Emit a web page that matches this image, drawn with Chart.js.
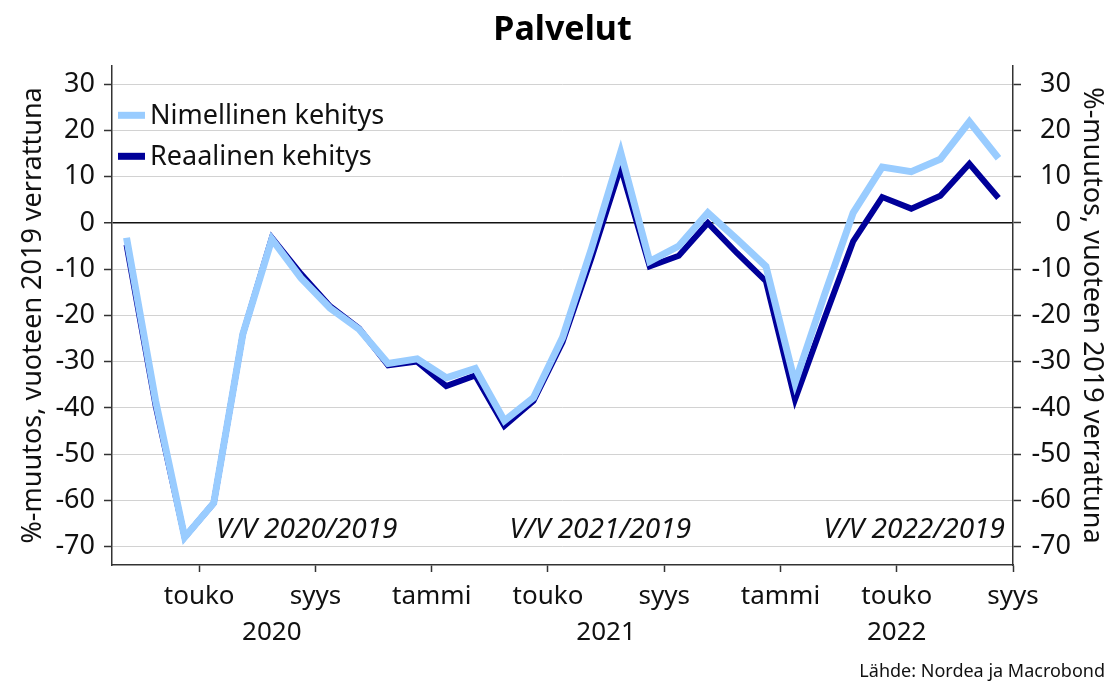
<!DOCTYPE html>
<html>
<head>
<meta charset="utf-8">
<script src="https://cdn.jsdelivr.net/npm/chart.js@4/dist/chart.umd.min.js"></script>
<style>
  html, body { margin: 0; padding: 0; background: #fff; }
</style>
</head>
<body>
<canvas id="chart" width="1110" height="681"></canvas>
<script>
// monthly observations, Feb 2020 .. Aug 2022 (% change vs same month of 2019)
const months = [
    '2020-02', '2020-03', '2020-04', '2020-05', '2020-06', '2020-07', '2020-08', '2020-09', '2020-10', '2020-11', '2020-12',
    '2021-01', '2021-02', '2021-03', '2021-04', '2021-05', '2021-06', '2021-07', '2021-08', '2021-09', '2021-10', '2021-11', '2021-12',
    '2022-01', '2022-02', '2022-03', '2022-04', '2022-05', '2022-06', '2022-07', '2022-08'
];
const nominal = [
    -3.2, -38.5, -68.0, -60.6, -24.1, -3.5, -11.9, -18.4, -23.0, -30.4, -29.4,
    -33.5, -31.5, -42.8, -37.8, -24.8, -5.5, 15.3, -8.3, -5.0, 2.2, -3.5, -9.4,
    -34.6, -15.8, 2.2, 12.1, 11.1, 13.8, 21.9, 14.0
];
const real = [
    -4.7, -39.5, -68.0, -60.6, -24.1, -3.2, -11.0, -18.0, -22.8, -30.8, -30.0,
    -35.3, -33.0, -43.9, -38.5, -25.8, -7.5, 12.1, -9.4, -7.1, 0.0, -6.5, -12.6,
    -38.2, -20.9, -4.0, 5.6, 3.1, 5.9, 12.8, 5.4
];
const seriesNames = ['Nimellinen kehitys', 'Reaalinen kehitys'];
const tickMonths = ['2020-05', '2020-09', '2021-01', '2021-05', '2021-09', '2022-01', '2022-05', '2022-09'];
const tickNames = ['touko', 'syys', 'tammi', 'touko', 'syys', 'tammi', 'touko', 'syys'];
const years = ['2020', '2021', '2022'];
const yTicks = [30, 20, 10, 0, -10, -20, -30, -40, -50, -60, -70];
const notes = ['V/V 2020/2019', 'V/V 2021/2019', 'V/V 2022/2019'];
const axisTitle = '%-muutos, vuoteen 2019 verrattuna';
const source = 'Lähde: Nordea ja Macrobond';

const FONT = "'Noto Sans', sans-serif";
Chart.defaults.font.family = FONT;
Chart.defaults.color = '#111';

// month index relative to the first observation
function monthPos(key) {
    const [y0, m0] = months[0].split('-').map(Number);
    const [y, m] = key.split('-').map(Number);
    return (y - y0) * 12 + (m - m0);
}

const xMin = -0.5;
const xMax = monthPos(tickMonths[tickMonths.length - 1]) - 0.5;
const tickPos = tickMonths.map(k => monthPos(k) - 0.5);
const yearPos = years.map(y => {
    const a = Math.max(xMin, monthPos(y + '-01') - 0.5);
    const b = Math.min(xMax, monthPos((+y + 1) + '-01') - 0.5);
    return (a + b) / 2;
});
const notePos = [6.2, 16.3, 27.1];
const yMin = -74, yMax = 34;

const overlay = {
    id: 'overlay',
    afterDraw(chart) {
        const { ctx, chartArea: a, scales: { x, y } } = chart;
        ctx.save();

        // legend inside the plot
        chart.data.datasets.forEach((ds, i) => {
            const cy = a.top + 49.5 + i * 41;
            ctx.strokeStyle = ds.borderColor;
            ctx.lineWidth = 7;
            ctx.beginPath();
            ctx.moveTo(a.left + 6, cy);
            ctx.lineTo(a.left + 33, cy);
            ctx.stroke();
            ctx.fillStyle = '#111';
            ctx.font = '27px ' + FONT;
            ctx.textAlign = 'left';
            ctx.textBaseline = 'middle';
            ctx.fillText(ds.label, a.left + 38, cy + 1);
        });

        // period notes
        ctx.font = 'italic 28px ' + FONT;
        ctx.textAlign = 'center';
        ctx.textBaseline = 'alphabetic';
        notes.forEach((t, i) => {
            ctx.fillText(t, x.getPixelForValue(notePos[i]), y.getPixelForValue(-68.2));
        });

        // source
        ctx.font = '18px ' + FONT;
        ctx.textAlign = 'right';
        ctx.fillText(source, chart.width - 5, chart.height - 4);
        ctx.restore();
    }
};

const gridColor = c => c.tick.value === 0 ? '#111' : '#d2d2d2';
const gridWidth = c => c.tick.value === 0 ? 1.5 : 1;

new Chart(document.getElementById('chart').getContext('2d'), {
    type: 'line',
    data: {
        datasets: [
            {
                label: seriesNames[0],
                data: nominal.map((v, i) => ({ x: i, y: v })),
                borderColor: '#99ccff',
                borderWidth: 7
            },
            {
                label: seriesNames[1],
                data: real.map((v, i) => ({ x: i, y: v })),
                borderColor: '#000099',
                borderWidth: 6
            }
        ]
    },
    options: {
        responsive: false,
        animation: false,
        layout: { padding: { left: 0, right: 0, top: 0, bottom: 33 } },
        elements: {
            point: { radius: 0 },
            line: { tension: 0, borderJoinStyle: 'miter', borderCapStyle: 'butt' }
        },
        plugins: {
            legend: { display: false },
            tooltip: { enabled: false },
            title: {
                display: true,
                text: 'Palvelut',
                fullSize: false,
                color: '#000',
                font: { size: 34, weight: 'bold' },
                padding: { top: 10, bottom: 15 }
            }
        },
        scales: {
            x: {
                type: 'linear',
                position: 'bottom',
                min: xMin,
                max: xMax,
                afterBuildTicks: s => { s.ticks = tickPos.map(v => ({ value: v })); },
                afterFit: s => { s.height = 45; },
                ticks: {
                    autoSkip: false,
                    maxRotation: 0,
                    padding: 9,
                    font: { size: 26 },
                    callback: (v, i) => tickNames[i]
                },
                grid: { drawOnChartArea: false, tickLength: 7, tickColor: '#333', tickWidth: 1.5 },
                border: { color: '#333', width: 1.5 }
            },
            years: {
                type: 'linear',
                position: 'bottom',
                weight: 1,
                min: xMin,
                max: xMax,
                afterBuildTicks: s => { s.ticks = yearPos.map(v => ({ value: v })); },
                afterFit: s => { s.height = 38; },
                ticks: {
                    autoSkip: false,
                    maxRotation: 0,
                    padding: 7,
                    font: { size: 26 },
                    callback: (v, i) => years[i]
                },
                grid: { display: false, drawTicks: false },
                border: { display: false }
            },
            y: {
                position: 'left',
                min: yMin,
                max: yMax,
                afterBuildTicks: s => { s.ticks = yTicks.map(v => ({ value: v })); },
                afterFit: s => { s.width = 112; },
                ticks: { padding: 9, font: { size: 27 } },
                grid: { color: gridColor, lineWidth: gridWidth, tickLength: 8, tickColor: '#333', tickWidth: 1.5 },
                border: { color: '#333', width: 1.5 },
                title: { display: true, text: axisTitle, font: { size: 27 }, padding: { top: 17, bottom: 0 } }
            },
            y2: {
                position: 'right',
                min: yMin,
                max: yMax,
                afterBuildTicks: s => { s.ticks = yTicks.map(v => ({ value: v })); },
                afterFit: s => { s.width = 58; },
                ticks: { padding: 9, crossAlign: 'far', font: { size: 27 } },
                grid: { drawOnChartArea: false, tickLength: 8, tickColor: '#333', tickWidth: 1.5 },
                border: { color: '#333', width: 1.5 }
            },
            y3: {
                position: 'right',
                weight: 1,
                min: yMin,
                max: yMax,
                afterFit: s => { s.width = 39; },
                ticks: { display: false },
                grid: { display: false, drawTicks: false },
                border: { display: false },
                title: { display: true, text: axisTitle, font: { size: 27 }, padding: { top: 2, bottom: 0 } }
            }
        }
    },
    plugins: [overlay]
});
</script>
</body>
</html>
